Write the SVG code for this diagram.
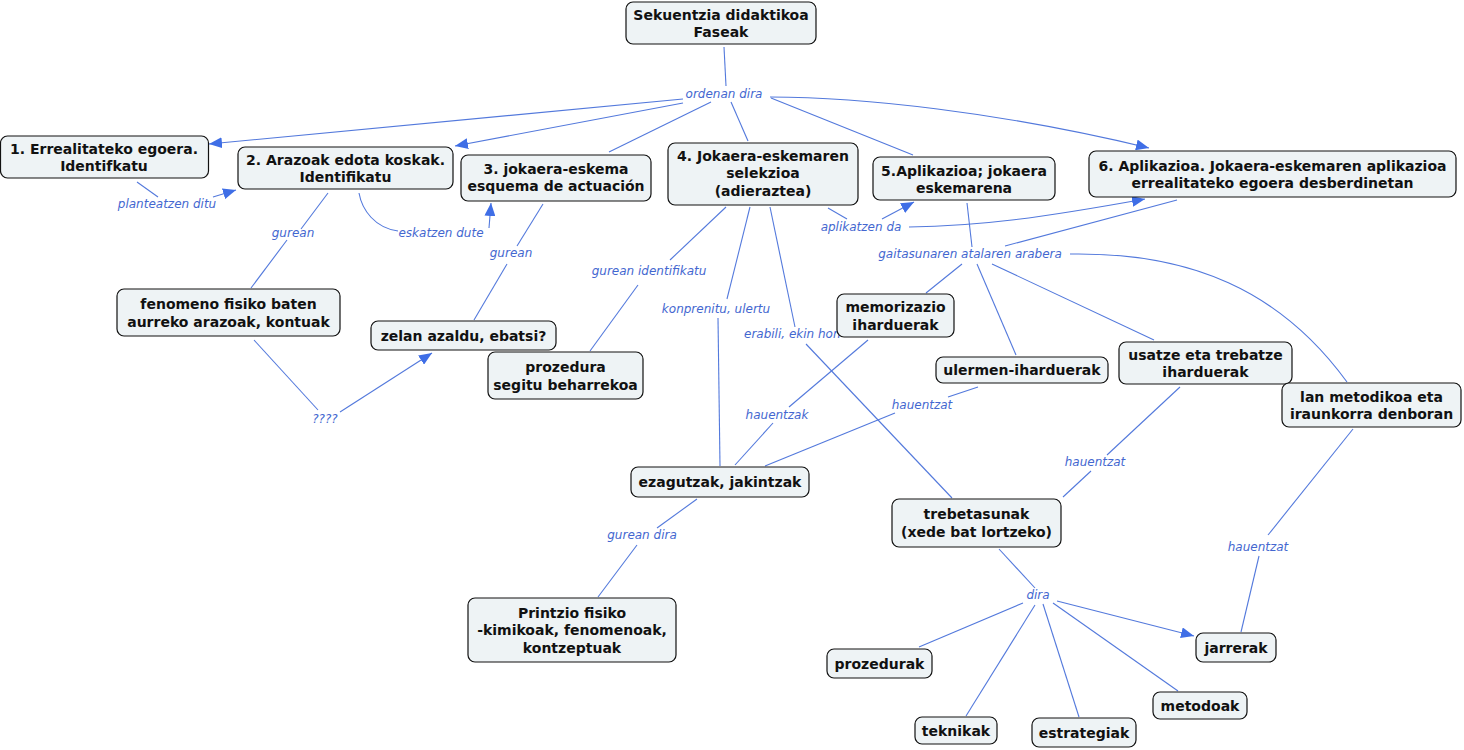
<svg xmlns="http://www.w3.org/2000/svg" width="1464" height="750" viewBox="0 0 1464 750">
<style>
.c{fill:none;stroke:#5379dc;stroke-width:1.1}
.a{marker-end:url(#ah)}
.l{font-family:"DejaVu Sans",Verdana,sans-serif;font-style:italic;font-size:12px;fill:#4467d0;text-anchor:middle}
.n rect{fill:#eef3f5;stroke:#111;stroke-width:1.2}
.n text{font-family:"DejaVu Sans",Verdana,sans-serif;font-weight:bold;font-size:14px;fill:#111;text-anchor:middle}
</style>
<defs>
<marker id="ah" markerUnits="userSpaceOnUse" markerWidth="13" markerHeight="11" refX="13" refY="5.5" orient="auto">
<path d="M0,0 L13,5.5 L0,11 z" fill="#3f6ee6"/>
</marker>
</defs>
<rect width="1464" height="750" fill="#fff"/>
<g id="connectors">
<path class="c" d="M724,47 L726,86"/>
<path class="c a" d="M683,99 L209,144"/>
<path class="c a" d="M683,103 L455,146"/>
<path class="c" d="M711,102 L609,152"/>
<path class="c" d="M731,102 L748,141"/>
<path class="c" d="M771,98 L913,155"/>
<path class="c a" d="M770,97 C860,97 1000,112 1149,148"/>
<path class="c" d="M137,182 L158,197"/>
<path class="c a" d="M213,197 L236,190"/>
<path class="c" d="M328,193 L301,229"/>
<path class="c" d="M287,240 L251,288"/>
<path class="c" d="M359,193 C362,210 375,228 398,231"/>
<path class="c a" d="M489,228 L491,203"/>
<path class="c" d="M543,204 L517,246"/>
<path class="c" d="M507,264 L474,320"/>
<path class="c" d="M726,207 L670,260"/>
<path class="c" d="M638,285 L590,351"/>
<path class="c" d="M750,207 L727,299"/>
<path class="c" d="M718,318 L720,466"/>
<path class="c" d="M770,207 L795,327"/>
<path class="c" d="M806,344 L952,498"/>
<path class="c" d="M828,208 L847,219"/>
<path class="c a" d="M882,219 L914,202"/>
<path class="c a" d="M909,227 C980,226 1040,218 1145,199"/>
<path class="c" d="M967,203 L972,247"/>
<path class="c" d="M1177,200 L1005,246"/>
<path class="c" d="M962,264 L926,293"/>
<path class="c" d="M977,264 L1016,355"/>
<path class="c" d="M992,264 L1154,340"/>
<path class="c" d="M1070,254 C1190,252 1280,290 1347,382"/>
<path class="c" d="M868,340 L789,407"/>
<path class="c" d="M773,423 L735,465"/>
<path class="c" d="M978,387 L948,397"/>
<path class="c" d="M895,413 L765,466"/>
<path class="c" d="M1180,387 L1107,455"/>
<path class="c" d="M1091,471 L1063,497"/>
<path class="c" d="M1353,429 L1268,535"/>
<path class="c" d="M1259,556 L1241,632"/>
<path class="c" d="M697,499 L657,528"/>
<path class="c" d="M637,545 L598,597"/>
<path class="c" d="M999,549 L1035,588"/>
<path class="c a" d="M1057,601 L1194,636"/>
<path class="c" d="M1023,603 L919,647"/>
<path class="c" d="M1035,605 L966,716"/>
<path class="c" d="M1043,604 L1079,717"/>
<path class="c" d="M1053,603 L1178,691"/>
<path class="c" d="M254,340 L318,410"/>
<path class="c a" d="M340,412 L432,353"/>
</g>
<g id="labels">
<text class="l" x="724" y="98">ordenan dira</text>
<text class="l" x="167" y="208">planteatzen ditu</text>
<text class="l" x="293" y="237">gurean</text>
<text class="l" x="441" y="237">eskatzen dute</text>
<text class="l" x="511" y="257">gurean</text>
<text class="l" x="649" y="275">gurean identifikatu</text>
<text class="l" x="716" y="313">konprenitu, ulertu</text>
<text class="l" x="744" y="338" style="text-anchor:start">erabili, ekin hon</text>
<text class="l" x="861" y="231">aplikatzen da</text>
<text class="l" x="970" y="258">gaitasunaren atalaren arabera</text>
<text class="l" x="325" y="423">????</text>
<text class="l" x="777" y="419">hauentzak</text>
<text class="l" x="922" y="409">hauentzat</text>
<text class="l" x="1095" y="466">hauentzat</text>
<text class="l" x="1258" y="551">hauentzat</text>
<text class="l" x="642" y="539">gurean dira</text>
<text class="l" x="1038" y="599">dira</text>
</g>
<g id="n-seku" class="n"><rect x="626" y="2" width="190" height="42" rx="7"/><text x="721" y="20">Sekuentzia didaktikoa</text><text x="721" y="37">Faseak</text></g>
<g id="n1" class="n"><rect x="0.5" y="136" width="208" height="42" rx="7"/><text x="104" y="154">1. Errealitateko egoera.</text><text x="104" y="171">Identifkatu</text></g>
<g id="n2" class="n"><rect x="238" y="147" width="215" height="42" rx="7"/><text x="345.5" y="165">2. Arazoak edota koskak.</text><text x="345.5" y="182">Identifikatu</text></g>
<g id="n3" class="n"><rect x="461" y="155" width="190" height="46" rx="7"/><text x="556" y="173.5">3. jokaera-eskema</text><text x="556" y="191">esquema de actuación</text></g>
<g id="n4" class="n"><rect x="668" y="143" width="190" height="62" rx="7"/><text x="763" y="160.5">4. Jokaera-eskemaren</text><text x="763" y="178">selekzioa</text><text x="763" y="195.5">(adieraztea)</text></g>
<g id="n5" class="n"><rect x="873" y="157" width="182" height="43" rx="7"/><text x="964" y="175.5">5.Aplikazioa; jokaera</text><text x="964" y="192.5">eskemarena</text></g>
<g id="n6" class="n"><rect x="1089" y="151" width="367" height="46" rx="7"/><text x="1272.5" y="170.5">6. Aplikazioa. Jokaera-eskemaren aplikazioa</text><text x="1272.5" y="187.5">errealitateko egoera desberdinetan</text></g>
<g id="n-fenomeno" class="n"><rect x="117" y="289" width="223" height="47" rx="7"/><text x="228.5" y="309">fenomeno fisiko baten</text><text x="228.5" y="326.5">aurreko arazoak, kontuak</text></g>
<g id="n-zelan" class="n"><rect x="371" y="321" width="185" height="29" rx="7"/><text x="463.5" y="340.5">zelan azaldu, ebatsi?</text></g>
<g id="n-prozedura" class="n"><rect x="488" y="352" width="155" height="47" rx="7"/><text x="565.5" y="372">prozedura</text><text x="565.5" y="389.5">segitu beharrekoa</text></g>
<g id="n-memorizazio" class="n"><rect x="837" y="294" width="117" height="43" rx="7"/><text x="895.5" y="312">memorizazio</text><text x="895.5" y="329.5">iharduerak</text></g>
<g id="n-ulermen" class="n"><rect x="936" y="357" width="172" height="26" rx="7"/><text x="1022" y="375">ulermen-iharduerak</text></g>
<g id="n-usatze" class="n"><rect x="1119" y="342" width="173" height="42" rx="7"/><text x="1205.5" y="359.5">usatze eta trebatze</text><text x="1205.5" y="376.5">iharduerak</text></g>
<g id="n-lan" class="n"><rect x="1282" y="383" width="179" height="44" rx="7"/><text x="1371.5" y="401.5">lan metodikoa eta</text><text x="1371.5" y="418.5">iraunkorra denboran</text></g>
<g id="n-ezagutzak" class="n"><rect x="631" y="467" width="178" height="30" rx="7"/><text x="720" y="487">ezagutzak, jakintzak</text></g>
<g id="n-trebetasunak" class="n"><rect x="892" y="499" width="169" height="48" rx="7"/><text x="976.5" y="519">trebetasunak</text><text x="976.5" y="536.5">(xede bat lortzeko)</text></g>
<g id="n-printzio" class="n"><rect x="468" y="598" width="208" height="64" rx="7"/><text x="572" y="617.5">Printzio fisiko</text><text x="572" y="635">-kimikoak, fenomenoak,</text><text x="572" y="652.5">kontzeptuak</text></g>
<g id="n-prozedurak" class="n"><rect x="827" y="649" width="105" height="29" rx="7"/><text x="879.5" y="668.5">prozedurak</text></g>
<g id="n-jarrerak" class="n"><rect x="1196" y="633" width="80" height="29" rx="7"/><text x="1236" y="652.5">jarrerak</text></g>
<g id="n-metodoak" class="n"><rect x="1153" y="692" width="94" height="27" rx="7"/><text x="1200" y="710.5">metodoak</text></g>
<g id="n-teknikak" class="n"><rect x="915" y="717" width="82" height="27" rx="7"/><text x="956" y="735.5">teknikak</text></g>
<g id="n-estrategiak" class="n"><rect x="1032" y="718" width="104" height="29" rx="7"/><text x="1084" y="737.5">estrategiak</text></g>
</svg>
